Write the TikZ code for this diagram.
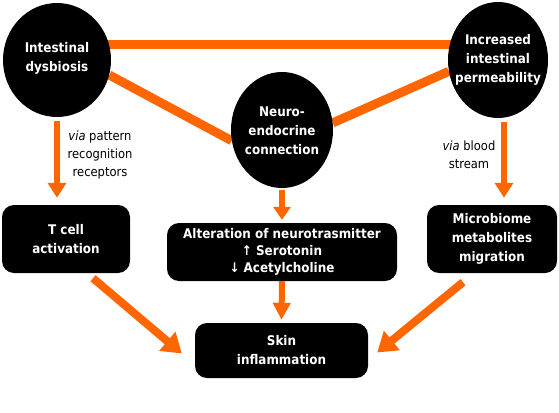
\documentclass[tikz,border=0pt]{standalone}
\usepackage{fontspec}
\setmainfont{DejaVu Sans Condensed}
\usetikzlibrary{shapes.geometric,arrows.meta,backgrounds}
\definecolor{org}{RGB}{255,102,0}
\begin{document}
\begin{tikzpicture}[x=1pt,y=-1pt,
  oval/.style={ellipse,fill=black,inner sep=0pt},
  ovaltext/.style={text=white,font=\bfseries\fontsize{13.3}{19}\selectfont,align=center,inner sep=0pt},
  box/.style={rectangle,rounded corners=12pt,fill=black,text=white,font=\bfseries\fontsize{13.3}{19}\selectfont,align=center,inner sep=0pt},
  link/.style={draw=org,line width=9pt},
  varrow/.style={draw=org,line width=6pt,-{Triangle[width=18pt,length=15pt]}},
  darrow/.style={draw=org,line width=8pt,-{Triangle[width=24pt,length=19pt]}},
  note/.style={font=\fontsize{12.8}{18}\selectfont,align=center,inner sep=0pt}]
\useasboundingbox (0,0) rectangle (559,412);
% ellipses
\node[oval,minimum width=108pt,minimum height=114pt] (dys) at (57,60) {};
\node[ovaltext] (dyst) at (57,58) {Intestinal\\dysbiosis};
\node[oval,minimum width=100pt,minimum height=116pt] (perm) at (498,60) {};
\node[ovaltext] (permt) at (498,60) {Increased\\intestinal\\permeability};
\node[oval,minimum width=102pt,minimum height=116pt] (neuro) at (282,130) {};
\node[ovaltext] (neurot) at (282,131) {Neuro-\\endocrine\\connection};
% boxes
\node[box,minimum width=128pt,minimum height=68pt] (tcell) at (66,239) {T cell\\activation};
\node[box,minimum width=230pt,minimum height=58pt,font=\bfseries\fontsize{13.3}{17}\selectfont] (alt) at (282,252) {Alteration of neurotrasmitter\\↑ Serotonin\\↓ Acetylcholine};
\node[box,minimum width=130pt,minimum height=68pt] (micro) at (492,239) {Microbiome\\metabolites\\migration};
\node[box,minimum width=173pt,minimum height=55pt] (skin) at (281.5,350.5) {Skin\\inflammation};
% labels
\node[note] (via1) at (100,155) {\textit{via} pattern\\recognition\\receptors};
\node[note] (via2) at (469,155) {\textit{via} blood\\stream};
% links
\begin{scope}[on background layer]
\draw[link] ([yshift=15pt]dys.center) -- ([yshift=15pt]perm.center);
\draw[link] (dys.-16) -- (neuro.192);
\draw[link] (neuro.8) -- (perm.193);
\end{scope}
% arrows
\coordinate (a1s) at ([yshift=-4pt]dys.south);
\draw[varrow] (a1s) -- ([yshift=7pt]a1s |- tcell.north);
\coordinate (a2s) at ([xshift=6pt,yshift=-4pt]perm.south);
\draw[varrow] (a2s) -- ([yshift=7pt]a2s |- micro.north);
\draw[varrow,-{Triangle[width=17pt,length=13pt]}] ([yshift=-2pt]neuro.south) -- ([yshift=3pt]alt.north);
\draw[varrow,-{Triangle[width=17pt,length=17pt]}] (alt.south) -- ([yshift=3pt]skin.north);
\draw[darrow] ([xshift=27pt,yshift=-5pt]tcell.south) -- ([xshift=-13pt,yshift=-3pt]skin.west);
\draw[darrow] ([xshift=-29pt,yshift=-9pt]micro.south) -- ([xshift=9pt,yshift=-2pt]skin.east);
\end{tikzpicture}
\end{document}
